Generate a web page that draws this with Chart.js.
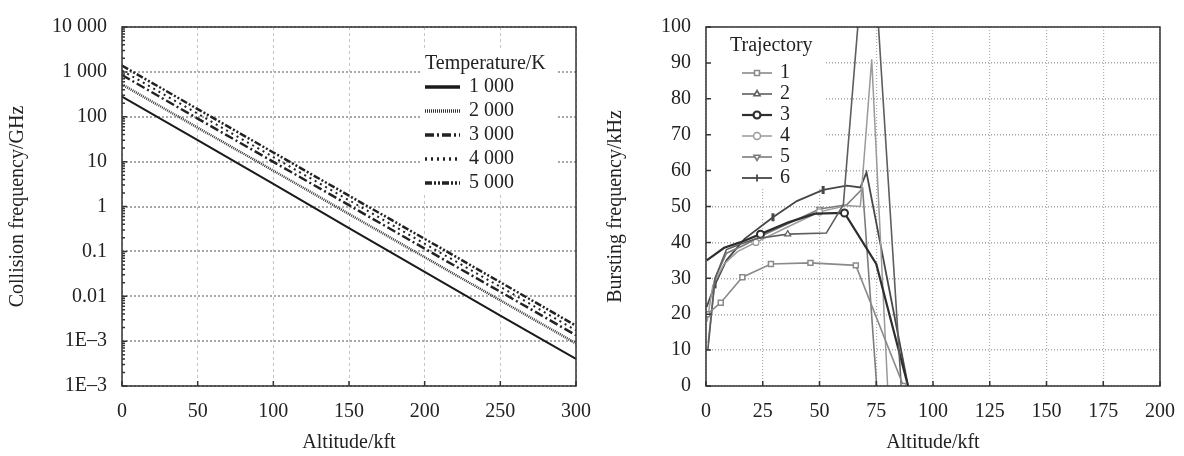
<!DOCTYPE html>
<html>
<head>
<meta charset="utf-8">
<script src="https://cdn.jsdelivr.net/npm/chart.js@4/dist/chart.umd.min.js"></script>
<style>
  body { margin: 0; background: #fff; width: 1184px; height: 456px; overflow: hidden; position: relative; }
  canvas { position: absolute; top: 0; }
  #left { left: 0; }
  #right { left: 600px; }
</style>
</head>
<body>
<canvas id="left" width="600" height="456"></canvas>
<canvas id="right" width="584" height="456"></canvas>
<script>
// ---- left panel: collision frequency vs altitude (log y) ----
const altitude = [0, 50, 100, 150, 200, 250, 300];
const temperatureLabels = ['1 000', '2 000', '3 000', '4 000', '5 000'];
const coll1000 = [280, 30, 3.2, 0.33, 0.035, 0.0037, 0.0004];
const coll2000 = [525, 57, 6.3, 0.68, 0.074, 0.0081, 0.00089];
const coll3000 = [850, 91, 9.9, 1.07, 0.115, 0.0126, 0.00135];
const coll4000 = [1070, 117, 12.6, 1.38, 0.148, 0.0162, 0.00174];
const coll5000 = [1380, 148, 16, 1.74, 0.19, 0.0205, 0.0022];
const logTickValues = [1e-4, 1e-3, 1e-2, 1e-1, 1, 10, 100, 1000, 10000];
const logTickLabels = ['1E–3', '1E–3', '0.01', '0.1', '1', '10', '100', '1 000', '10 000'];
const leftXTicks = [0, 50, 100, 150, 200, 250, 300];

// ---- right panel: bursting frequency vs altitude ----
const trajectoryLabels = ['1', '2', '3', '4', '5', '6'];
const t1Alt = [0.5, 6.5, 16, 28.6, 46, 66, 87];
const t1Freq = [20, 23.2, 30.3, 34, 34.3, 33.6, 0];
const t2Alt = [0.8, 4, 9, 15, 22, 36, 53, 60.5, 72, 86];
const t2Freq = [10, 30, 38, 39.5, 41, 42.3, 42.6, 50.5, 140, 0];
const t3Alt = [0.3, 8, 15, 24, 36, 48, 61, 75, 89];
const t3Freq = [35, 38.5, 40, 42.3, 45.5, 48, 48.2, 34, 0];
const t4Alt = [0.5, 3, 8, 14, 22, 35, 50, 62, 68, 73, 80];
const t4Freq = [18, 28, 34, 37.5, 40, 44, 48.5, 50.3, 50, 91, 0];
const t5Alt = [1, 4, 9, 16, 25, 37, 50, 62, 69, 75.2];
const t5Freq = [12, 30, 37, 39, 42, 45.5, 49.3, 50.5, 55, 0];
const t6Alt = [0.3, 4, 9, 17, 29.5, 40, 51.6, 62, 68, 70.7, 89];
const t6Freq = [22, 28.3, 35, 41, 47, 51.5, 54.6, 55.8, 55.3, 59.5, 0];
const rightXTicks = [0, 25, 50, 75, 100, 125, 150, 175, 200];
const rightYTicks = [0, 10, 20, 30, 40, 50, 60, 70, 80, 90, 100];

const FONT = '"Liberation Serif", "DejaVu Serif", serif';
Chart.defaults.font.family = FONT;
Chart.defaults.font.size = 20;
Chart.defaults.color = '#222';

const pts = (xs, ys) => xs.map((x, i) => ({ x: x, y: ys[i] }));

// fixed axis box sizes so the plot areas land where the original has them
const fixX = s => { s.height = 70; s.paddingLeft = 0; s.paddingRight = 0; };

// box around the plot + small inward tick marks
const frame = {
  id: 'frame',
  afterDatasetsDraw(chart, args, opts) {
    const a = chart.chartArea, ctx = chart.ctx;
    const xs = chart.scales.x, ys = chart.scales.y;
    ctx.save();
    ctx.setLineDash([]);
    ctx.strokeStyle = '#333';
    ctx.lineWidth = 1.5;
    ctx.strokeRect(a.left, a.top, a.right - a.left, a.bottom - a.top);
    ctx.beginPath();
    xs.ticks.forEach(t => {
      const px = xs.getPixelForValue(t.value);
      ctx.moveTo(px, a.bottom); ctx.lineTo(px, a.bottom - 5);
    });
    ys.ticks.forEach(t => {
      const py = ys.getPixelForValue(t.value);
      ctx.moveTo(a.left, py); ctx.lineTo(a.left + 5, py);
    });
    if (opts.minorLog) {
      ys.ticks.forEach(t => {
        for (let m = 2; m < 10; m++) {
          const v = t.value * m;
          if (v >= ys.max) break;
          const py = ys.getPixelForValue(v);
          ctx.moveTo(a.left, py); ctx.lineTo(a.left + 3, py);
        }
      });
    }
    ctx.stroke();
    ctx.restore();
  }
};

// legend drawn inside the plot on a white patch
const boxLegend = {
  id: 'boxLegend',
  beforeDatasetsDraw(chart, args, o) {
    const a = chart.chartArea, ctx = chart.ctx;
    ctx.save();
    ctx.fillStyle = '#fff';
    ctx.fillRect(a.left + o.x, a.top + o.y, o.w, o.h);
    ctx.restore();
  },
  afterDraw(chart, args, o) {
    const a = chart.chartArea, ctx = chart.ctx;
    const x0 = a.left + o.x, y0 = a.top + o.y;
    ctx.save();
    ctx.font = '20px ' + FONT;
    ctx.textBaseline = 'middle';
    ctx.fillStyle = '#222';
    ctx.fillText(o.title, x0 + o.titleDx, y0 + o.titleDy);
    chart.data.datasets.forEach((ds, i) => {
      const y = y0 + o.rowDy0 + i * o.rowH;
      const xs = x0 + o.sampleDx;
      ctx.strokeStyle = ds.borderColor;
      ctx.lineWidth = o.sampleWidth || ds.borderWidth;
      ctx.setLineDash(ds.borderDash || []);
      ctx.beginPath();
      ctx.moveTo(xs, y); ctx.lineTo(xs + o.sampleLen, y);
      ctx.stroke();
      ctx.setLineDash([]);
      if (o.markers) {
        ctx.fillStyle = ds.pointBackgroundColor;
        ctx.strokeStyle = ds.pointBorderColor;
        Chart.helpers.drawPoint(ctx, {
          pointStyle: ds.pointStyle, radius: 3.5,
          rotation: ds.pointRotation || 0, borderWidth: ds.pointBorderWidth
        }, xs + o.sampleLen / 2, y);
      }
      ctx.fillStyle = '#222';
      ctx.fillText(ds.label, xs + o.sampleLen + o.textGap, y);
    });
    ctx.restore();
  }
};

// ---------- left chart ----------
const leftStyles = [
  { color: '#1a1a1a', width: 2, dash: [] },
  { color: '#333', width: 2.5, dash: [1, 1] },
  { color: '#222', width: 2.5, dash: [9, 3, 2, 3] },
  { color: '#222', width: 2, dash: [2, 4] },
  { color: '#222', width: 2.5, dash: [7, 2, 2, 2, 2, 2] }
];
const leftSeries = [coll1000, coll2000, coll3000, coll4000, coll5000];

new Chart(document.getElementById('left'), {
  type: 'line',
  data: {
    datasets: leftSeries.map((vals, i) => ({
      label: temperatureLabels[i],
      data: pts(altitude, vals),
      borderColor: leftStyles[i].color,
      borderWidth: leftStyles[i].width,
      borderDash: leftStyles[i].dash,
      pointRadius: 0,
      tension: 0,
      fill: false
    }))
  },
  options: {
    responsive: false,
    animation: false,
    devicePixelRatio: 1,
    layout: { padding: { top: 19, right: 24, left: 0, bottom: 0 } },
    plugins: {
      legend: { display: false },
      tooltip: { enabled: false },
      boxLegend: {
        x: 299, y: 21, w: 136, h: 146,
        title: 'Temperature/K', titleDx: 4, titleDy: 16,
        rowDy0: 39, rowH: 24, sampleDx: 4, sampleLen: 35, textGap: 9, sampleWidth: 3.5
      },
      frame: { minorLog: true }
    },
    scales: {
      x: {
        type: 'linear', min: 0, max: 300,
        afterBuildTicks: s => { s.ticks = leftXTicks.map(v => ({ value: v })); },
        afterFit: fixX,
        grid: { color: '#c4c4c4', lineWidth: 1, drawTicks: false },
        border: { display: false, dash: [3, 3] },
        ticks: { padding: 14, maxRotation: 0, color: '#222' },
        title: { display: true, text: 'Altitude/kft', color: '#222', padding: { top: 0, bottom: 1 } }
      },
      y: {
        type: 'logarithmic', min: 1e-4, max: 1e4,
        afterBuildTicks: s => { s.ticks = logTickValues.map(v => ({ value: v })); },
        afterFit: s => { s.width = 122; },
        grid: { color: '#a8a8a8', lineWidth: 2, drawTicks: false },
        border: { display: false, dash: [2, 2] },
        ticks: { padding: 15, color: '#222', callback: (v, i) => logTickLabels[i] },
        title: { display: true, text: 'Collision frequency/GHz', color: '#222', padding: { top: 6, bottom: 0 } }
      }
    }
  },
  plugins: [boxLegend, frame]
});

// ---------- right chart ----------
const rightStyles = [
  { color: '#8a8a8a', width: 1.6, marker: 'rect', fill: '#fff', radius: 3.5, bw: 1.5, marks: [0, 1, 2, 3, 4, 5, 6] },
  { color: '#5e5e5e', width: 1.6, marker: 'triangle', fill: '#fff', radius: 3.5, bw: 1.2, marks: [5] },
  { color: '#2e2e2e', width: 2.2, marker: 'circle', fill: '#fff', radius: 3.5, bw: 2, marks: [3, 6] },
  { color: '#9a9a9a', width: 1.5, marker: 'circle', fill: '#fff', radius: 3, bw: 1.2, marks: [4, 6] },
  { color: '#7c7c7c', width: 1.6, marker: 'triangle', fill: '#fff', radius: 3.5, bw: 1.2, rot: 180, marks: [6] },
  { color: '#474747', width: 1.8, marker: 'line', fill: '#474747', radius: 4, bw: 3, rot: 90, marks: [1, 4, 6] }
];
const rightAlt = [t1Alt, t2Alt, t3Alt, t4Alt, t5Alt, t6Alt];
const rightFreq = [t1Freq, t2Freq, t3Freq, t4Freq, t5Freq, t6Freq];

new Chart(document.getElementById('right'), {
  type: 'line',
  data: {
    datasets: rightAlt.map((xs, i) => {
      const st = rightStyles[i];
      return {
        label: trajectoryLabels[i],
        data: pts(xs, rightFreq[i]),
        borderColor: st.color,
        borderWidth: st.width,
        pointStyle: st.marker,
        pointRotation: st.rot || 0,
        pointBackgroundColor: st.fill,
        pointBorderColor: st.color,
        pointBorderWidth: st.bw,
        pointRadius: ctx => st.marks.includes(ctx.dataIndex) ? st.radius : 0,
        tension: 0,
        fill: false
      };
    })
  },
  options: {
    responsive: false,
    animation: false,
    devicePixelRatio: 1,
    layout: { padding: { top: 14, right: 24, left: 0, bottom: 0 } },
    plugins: {
      legend: { display: false },
      tooltip: { enabled: false },
      boxLegend: {
        x: 0, y: 0, w: 119, h: 160,
        title: 'Trajectory', titleDx: 24, titleDy: 19,
        rowDy0: 46, rowH: 21, sampleDx: 36, sampleLen: 30, textGap: 8, markers: true
      },
      frame: {}
    },
    scales: {
      x: {
        type: 'linear', min: 0, max: 200,
        afterBuildTicks: s => { s.ticks = rightXTicks.map(v => ({ value: v })); },
        afterFit: fixX,
        grid: { color: '#b0b0b0', lineWidth: 1.2, drawTicks: false },
        border: { display: false, dash: [1, 2] },
        ticks: { padding: 14, maxRotation: 0, color: '#222' },
        title: { display: true, text: 'Altitude/kft', color: '#222', padding: { top: 0, bottom: 1 } }
      },
      y: {
        type: 'linear', min: 0, max: 100,
        afterBuildTicks: s => { s.ticks = rightYTicks.map(v => ({ value: v })); },
        afterFit: s => { s.width = 106; },
        grid: { color: '#a8a8a8', lineWidth: 1.4, drawTicks: false },
        border: { display: false, dash: [1, 2] },
        ticks: { padding: 15, color: '#222' },
        title: { display: true, text: 'Bursting frequency/kHz', color: '#222', padding: { top: 4, bottom: 0 } }
      }
    }
  },
  plugins: [boxLegend, frame]
});
</script>
</body>
</html>
